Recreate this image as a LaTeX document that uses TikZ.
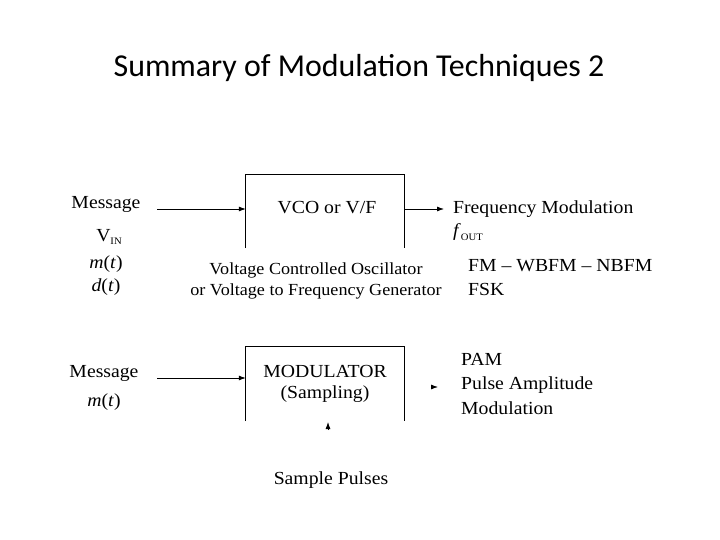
\documentclass[tikz,border=0pt]{standalone}
\usepackage{fontspec}
\setmainfont{Liberation Serif}[FakeStretch=1.07]
\newfontfamily\titlefont{Carlito}
\usetikzlibrary{arrows.meta}
\newcommand{\lowsub}[1]{\raisebox{-0.45ex}{\fontsize{10}{10}\selectfont #1}}
\begin{document}
\begin{tikzpicture}[x=1bp,y=-1bp]
\tikzstyle{every node}=[font=\fontsize{18.5}{22}\selectfont, inner sep=0pt]
\tikzstyle{arr}=[line width=0.8bp, -{Latex[length=7bp,width=5bp]}]
\tikzstyle{side}=[line width=0.8bp]
	\useasboundingbox[fill=white] (0,0) rectangle (720,540);
	\node[font=\titlefont\fontsize{32}{38}\selectfont] (title) at (359,68) {Summary of Modulation Techniques 2};

	% VCO block
	\node[minimum width=158bp, minimum height=73bp] (vco) at (325,211.5) {};
	\draw[side] (vco.south west) -- (vco.north west) -- (vco.north east) -- (vco.south east);
	\node (vcotxt) at (327,208) {VCO or V/F};
	\node (msga) at (106,204) {Message};
	\node (vin) at (109,237) {V\lowsub{IN}};
	\node (mta) at (106,264) {\textit{m}(\textit{t})};
	\node (dt) at (106,287) {\textit{d}(\textit{t})};
	\node[font=\fontsize{17}{20}\selectfont] (vcoa) at (316,270) {Voltage Controlled Oscillator};
	\node[font=\fontsize{17}{20}\selectfont] (vcob) at (316,291) {or Voltage to Frequency Generator};
	\node[anchor=west] (fm) at (453,209) {Frequency Modulation};
	\node[anchor=west] (fout) at (453,232) {\textit{f}\lowsub{OUT}};
	\node[anchor=west] (fmtypes) at (468,266) {FM -- WBFM -- NBFM};
	\node[anchor=west] (fsk) at (468,289) {FSK};
	\coordinate (ina) at (157,209);
	\coordinate (outa) at (444,209);
	\draw[arr] (ina) -- (ina -| vco.west);
	\draw[arr] (outa -| vco.east) -- (outa);

	% PAM block
	\node[minimum width=158bp, minimum height=74bp] (mod) at (325,384) {};
	\draw[side] (mod.south west) -- (mod.north west) -- (mod.north east) -- (mod.south east);
	\node (modtxt) at (325,371) {MODULATOR};
	\node (samp) at (325,394) {(Sampling)};
	\node (msgb) at (104,373) {Message};
	\node (mtb) at (104,402) {\textit{m}(\textit{t})};
	\node[anchor=west] (pam) at (461,359) {PAM};
	\node[anchor=west] (pama) at (461,385) {Pulse Amplitude};
	\node[anchor=west] (pamb) at (461,408) {Modulation};
	\node (pulses) at (331,480) {Sample Pulses};
	\coordinate (inb) at (157,378);
	\coordinate (outb) at (438,387);
	\coordinate (clk) at (328,422);
	\draw[arr] (inb) -- (inb -| mod.west);
	\draw[arr] (outb) ++(-3,0) -- (outb);
	\draw[arr] (clk) ++(0,8) -- (clk);
\end{tikzpicture}
\end{document}
